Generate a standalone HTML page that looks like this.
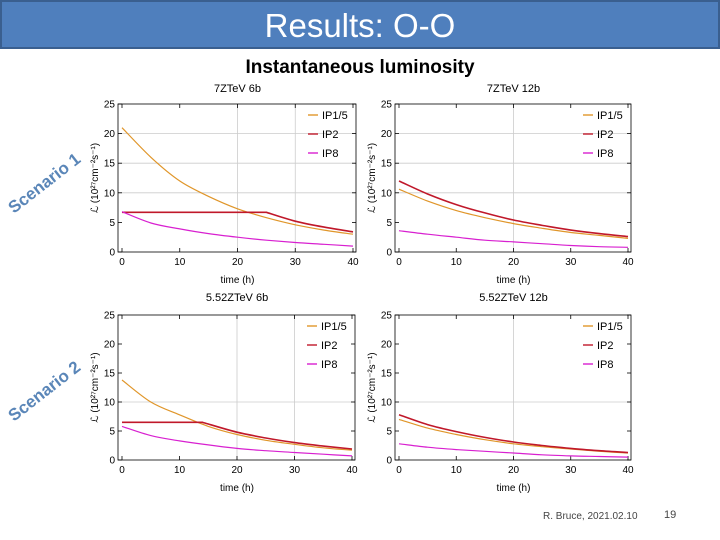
<!DOCTYPE html>
<html><head><meta charset="utf-8"><style>
body{margin:0;background:#fff;}
#slide{position:relative;width:720px;height:540px;overflow:hidden;background:#fff;font-family:"Liberation Sans",sans-serif;}
#titlebar{position:absolute;left:0;top:0;width:716px;height:45px;background:#4f7fbd;border:2px solid #3a5f8f;color:#fff;font-size:33px;text-align:center;line-height:47px;}
#subtitle{position:absolute;left:0;width:720px;top:57px;text-align:center;font-weight:bold;font-size:19px;}
.scen{position:absolute;color:#5a86b8;font-weight:bold;font-size:17px;transform:rotate(-38deg);transform-origin:left bottom;white-space:nowrap;}
#footer{position:absolute;left:543px;top:511px;font-size:10px;color:#444;}
#pnum{position:absolute;left:664px;top:509px;font-size:11px;color:#444;}
</style></head><body>
<div id="slide">
<div id="titlebar">Results: O-O</div>
<div id="subtitle">Instantaneous luminosity</div>
<div class="scen" style="left:17px;top:198px;">Scenario 1</div>
<div class="scen" style="left:17px;top:406px;">Scenario 2</div>
<svg id="charts" width="720" height="540" style="position:absolute;left:0;top:0"></svg>
<div id="footer">R. Bruce, 2021.02.10</div>
<div id="pnum">19</div>
</div>
<script>
const tTimes=[0,5,10,15,20,25,30,35,40];
const p1Titles=["7ZTeV 6b","7ZTeV 12b","5.52ZTeV 6b","5.52ZTeV 12b"];
const xTicks=[0,10,20,30,40];
const yTicks=[0,5,10,15,20,25];
const seriesNames=["IP1/5","IP2","IP8"];
// panel 1: 7ZTeV 6b
const a_ip15=[21,16,12,9.4,7.3,5.8,4.6,3.7,3.0];
const a_ip2_t=[0,25,30,35,40];
const a_ip2=[6.7,6.7,5.2,4.2,3.4];
const a_ip8=[6.8,4.9,3.9,3.1,2.5,2.0,1.6,1.3,1.0];
// panel 2: 7ZTeV 12b
const b_ip15=[10.6,8.6,7.0,5.8,4.8,4.0,3.3,2.8,2.3];
const b_ip2=[12,9.8,8.0,6.6,5.4,4.5,3.7,3.1,2.6];
const b_ip8=[3.6,3.0,2.5,2.0,1.7,1.4,1.1,0.9,0.8];
// panel 3: 5.52ZTeV 6b
const c_ip15=[13.8,10,7.8,5.8,4.4,3.4,2.7,2.1,1.7];
const c_ip2_t=[0,14,15,20,25,30,35,40];
const c_ip2=[6.5,6.5,6.2,4.8,3.8,3.0,2.4,1.9];
const c_ip8=[5.8,4.2,3.3,2.6,2.0,1.6,1.3,1.0,0.7];
// panel 4: 5.52ZTeV 12b
const d_ip15=[7.0,5.5,4.4,3.5,2.8,2.3,1.9,1.5,1.2];
const d_ip2=[7.8,6.1,4.9,3.9,3.1,2.5,2.0,1.6,1.3];
const d_ip8=[2.8,2.2,1.8,1.5,1.2,0.9,0.7,0.6,0.5];

const colors=["#e0962a","#c0182a","#d820d0"];
const svg=document.getElementById('charts');
const NS="http://www.w3.org/2000/svg";
function mk(tag,attrs,parent){const e=document.createElementNS(NS,tag);for(const k in attrs)e.setAttribute(k,attrs[k]);(parent||svg).appendChild(e);return e;}
function smoothSeg(pts){
 let d='';
 for(let i=0;i<pts.length-1;i++){
  const p0=pts[Math.max(i-1,0)],p1=pts[i],p2=pts[i+1],p3=pts[Math.min(i+2,pts.length-1)];
  const c1=[p1[0]+(p2[0]-p0[0])/6,p1[1]+(p2[1]-p0[1])/6];
  const c2=[p2[0]-(p3[0]-p1[0])/6,p2[1]-(p3[1]-p1[1])/6];
  d+=' C'+c1[0].toFixed(1)+' '+c1[1].toFixed(1)+' '+c2[0].toFixed(1)+' '+c2[1].toFixed(1)+' '+p2[0].toFixed(1)+' '+p2[1].toFixed(1);
 }
 return d;
}
function smooth(pts,flat){
 let d='M'+pts[0][0].toFixed(1)+' '+pts[0][1].toFixed(1);
 if(flat){d+=' L'+pts[1][0].toFixed(1)+' '+pts[1][1].toFixed(1);return d+smoothSeg(pts.slice(1));}
 return d+smoothSeg(pts);
}
const panels=[
 {x0:122,x1:353,y0:252,y1:104,title:p1Titles[0],s:[[tTimes,a_ip15],[a_ip2_t,a_ip2],[tTimes,a_ip8]],vg:[20,30],hg:[10,15,20],ty:92,xl:283},
 {x0:399,x1:628,y0:252,y1:104,title:p1Titles[1],s:[[tTimes,b_ip15],[tTimes,b_ip2],[tTimes,b_ip8]],vg:[20],hg:[10,15,20],ty:92,xl:283},
 {x0:122,x1:352,y0:460,y1:315,title:p1Titles[2],s:[[tTimes,c_ip15],[c_ip2_t,c_ip2],[tTimes,c_ip8]],vg:[20,30],hg:[10],ty:301,xl:491},
 {x0:399,x1:628,y0:460,y1:315,title:p1Titles[3],s:[[tTimes,d_ip15],[tTimes,d_ip2],[tTimes,d_ip8]],vg:[20],hg:[10],ty:301,xl:491}
];
panels.forEach((p,i)=>{
 const g=mk('g',{});
 
 
 const X=v=>p.x0+(v/40)*(p.x1-p.x0);
 const Y=v=>p.y0+(v/25)*(p.y1-p.y0);
 const fl=p.x0-4, fr=p.x1+3;
 p.vg.forEach(v=>mk('line',{x1:X(v),x2:X(v),y1:Y(0),y2:Y(25),stroke:'#ccc','stroke-width':0.8},g));
 p.hg.forEach(v=>mk('line',{x1:fl,x2:fr,y1:Y(v),y2:Y(v),stroke:'#ccc','stroke-width':0.8},g));
 mk('rect',{x:fl,y:Y(25),width:fr-fl,height:Y(0)-Y(25),fill:'none',stroke:'#000','stroke-width':0.8},g);
 xTicks.forEach(v=>{
  mk('line',{x1:X(v),x2:X(v),y1:Y(0),y2:Y(0)-4,stroke:'#000','stroke-width':0.8},g);
  mk('line',{x1:X(v),x2:X(v),y1:Y(25),y2:Y(25)+4,stroke:'#000','stroke-width':0.8},g);
  const t=mk('text',{x:X(v),y:Y(0)+13,'font-size':10,'text-anchor':'middle'},g);t.textContent=v;
 });
 yTicks.forEach(v=>{
  mk('line',{x1:fl,x2:fl+4,y1:Y(v),y2:Y(v),stroke:'#000','stroke-width':0.8},g);
  mk('line',{x1:fr,x2:fr-4,y1:Y(v),y2:Y(v),stroke:'#000','stroke-width':0.8},g);
  const t=mk('text',{x:fl-3,y:Y(v)+3.5,'font-size':10,'text-anchor':'end'},g);t.textContent=v;
 });
 const tt=mk('text',{x:(p.x0+p.x1)/2,y:p.ty,'font-size':11,'text-anchor':'middle'},g);tt.textContent=p.title;
 
 
 const xl=mk('text',{x:(p.x0+p.x1)/2,y:p.xl,'font-size':10,'text-anchor':'middle'},g);xl.textContent='time (h)';
 
 
 const yc=(p.y0+p.y1)/2, yx=fl-20;
 const yl=mk('text',{x:yx,y:yc,'font-size':10,'text-anchor':'middle',transform:`rotate(-90 ${yx} ${yc})`},g);
 yl.textContent='ℒ (10²⁷cm⁻²s⁻¹)';
 
 
 p.s.forEach((s,k)=>{
  const pts=s[0].map((t,j)=>[X(t),Y(s[1][j])]);
  const flat=s[0].length!==tTimes.length;
  const d=smooth(pts,flat);
  const path=mk('path',{d:d,fill:'none',stroke:colors[k],'stroke-width':k==1?1.6:1.2,'stroke-linejoin':'round'},g);
  
  
  const ly=Y(25)+11+k*19;
  mk('line',{x1:fr-48,x2:fr-38,y1:ly,y2:ly,stroke:colors[k],'stroke-width':1.4},g);
  const lt=mk('text',{x:fr-34,y:ly+4,'font-size':11},g);lt.textContent=seriesNames[k];
  
  
 });
});
</script>
</body></html>
